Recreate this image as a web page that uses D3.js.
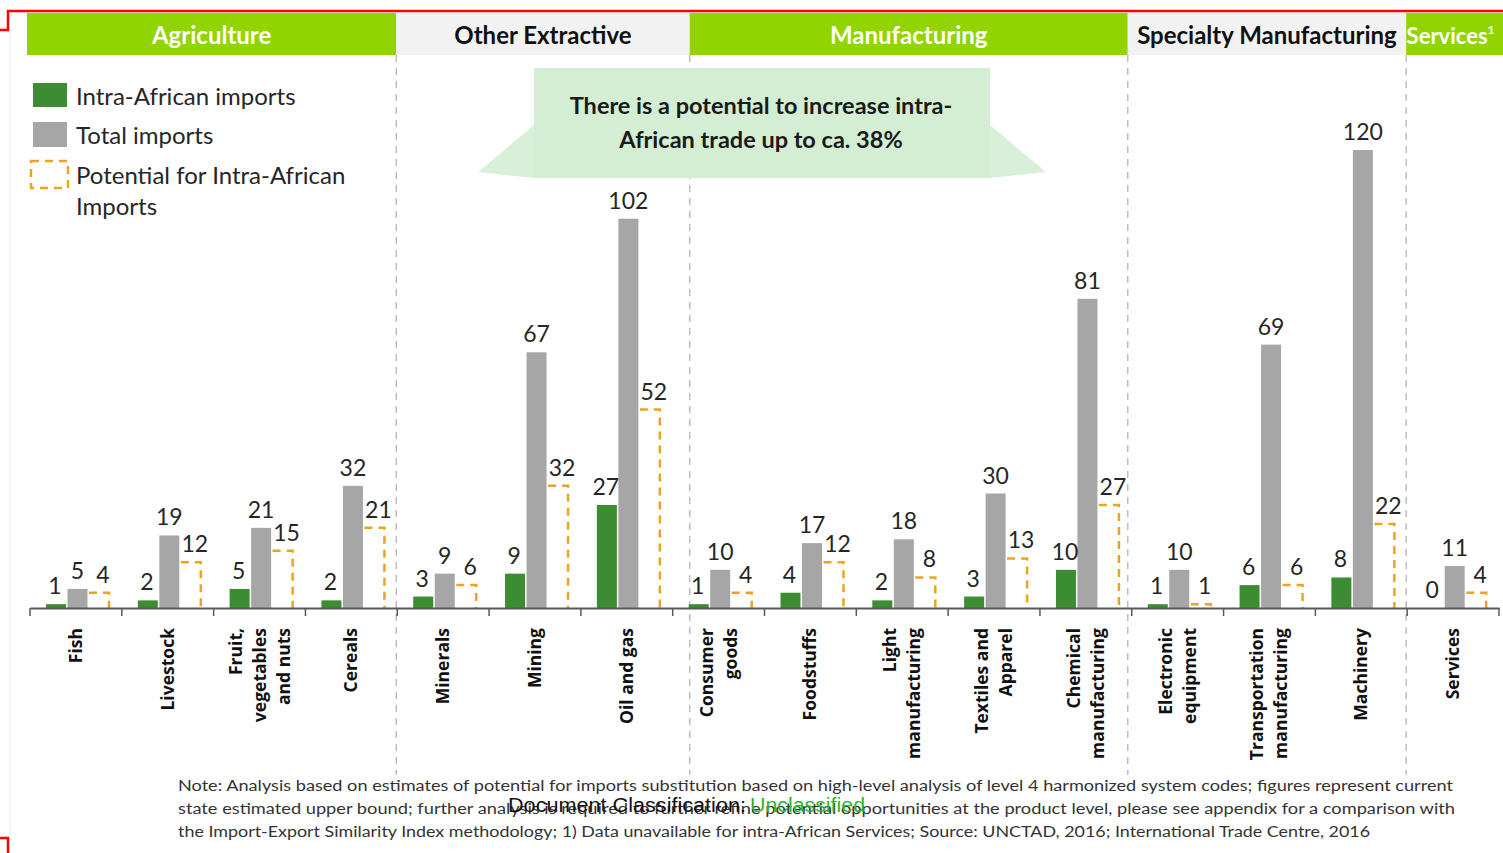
<!DOCTYPE html>
<html><head><meta charset="utf-8">
<script src="https://cdn.jsdelivr.net/npm/d3@7/dist/d3.min.js"></script>
<style>body{margin:0;background:#fff} svg{display:block}</style>
</head><body><div id="chart"></div>
<script>
// categories ("|" = line break in the axis label)
const categories = ["Fish","Livestock","Fruit,|vegetables|and nuts","Cereals","Minerals","Mining","Oil and gas",
  "Consumer|goods","Foodstuffs","Light|manufacturing","Textiles and|Apparel","Chemical|manufacturing",
  "Electronic|equipment","Transportation|manufacturing","Machinery","Services"];
const intraImports = [1,2,5,2,3,9,27,1,4,2,3,10,1,6,8,0];
const totalImports = [5,19,21,32,9,67,102,10,17,18,30,81,10,69,120,11];
const potential    = [4,12,15,21,6,32,52,4,12,8,13,27,1,6,22,4];
const groupNames = ["Agriculture","Other Extractive","Manufacturing","Specialty Manufacturing","Services"];
const groupSizes = [4,3,5,3,1];
const groupGreen = [true,false,true,false,true];
const legendLabels = ["Intra-African imports","Total imports","Potential for Intra-African|Imports"];
const callout = ["There is a potential to increase intra-","African trade up to ca. 38%"];
const notes = [
  "Note: Analysis based on estimates of potential for imports substitution based on high-level analysis of level 4 harmonized system codes; figures represent current",
  "state estimated upper bound; further analysis is required to further refine potential opportunities at the product level, please see appendix for a comparison with",
  "the Import-Export Similarity Index methodology; 1) Data unavailable for intra-African Services; Source: UNCTAD, 2016;  International Trade Centre, 2016"
];

const W = 1503, H = 853;
const GREEN = "#3c8c32", GRAY = "#a6a6a6", ORANGE = "#eaa420", HEAD = "#92d400";
const svg = d3.select("#chart").append("svg").attr("width", W).attr("height", H)
  .style("font-family", "Lato, 'Open Sans', sans-serif");

const x = d3.scaleBand().domain(categories).range([30, 1499]);
const sub = d3.scaleBand().domain(["intra","total","potential"]).range([16, 79]).paddingInner(0.07);
const y = d3.scaleLinear().domain([0, 120]).range([608, 150]);
const bw = sub.bandwidth();

// frame marks
svg.append("path").attr("d","M0,30H8V11H1503").attr("fill","none").attr("stroke","#f00").attr("stroke-width",2.5);
svg.append("path").attr("d","M0,838H8V853").attr("fill","none").attr("stroke","#f00").attr("stroke-width",2.5);
svg.append("line").attr("x1",10).attr("x2",10).attr("y1",30).attr("y2",837).attr("stroke","#fbe3e3").attr("stroke-width",1);

// group header bands + separators
const shift = [-3, -1, 17, -4, -1];
let idx = 0;
const bounds = groupSizes.map((n, i) => { const s = x(categories[idx]) + shift[i]; idx += n; return s; });
bounds.push(W);
groupNames.forEach((g, i) => {
  const x0 = bounds[i], x1 = bounds[i+1];
  svg.append("rect").attr("x", x0).attr("y", 13).attr("width", x1 - x0).attr("height", 42)
    .attr("fill", groupGreen[i] ? HEAD : "#f2f2f2");
  const t = svg.append("text").attr("x", (x0 + x1) / 2 + (i === 4 ? -4 : 0)).attr("y", 44)
    .attr("text-anchor", "middle").attr("font-weight", 700).attr("font-size", i === 4 ? 22 : 24)
    .attr("fill", groupGreen[i] ? "#fff" : "#111").text(g);
  if (i === 4) t.append("tspan").attr("font-size", 12).attr("dy", -10).text("1");
  if (i > 0) svg.append("line").attr("x1", x0).attr("x2", x0).attr("y1", 55).attr("y2", 775)
    .attr("stroke", "#bdbdbd").attr("stroke-width", 1.5).attr("stroke-dasharray", "7,6");
});

// legend
const lg = svg.append("g");
lg.append("rect").attr("x",33).attr("y",83).attr("width",34).attr("height",24).attr("fill",GREEN);
lg.append("rect").attr("x",33).attr("y",122).attr("width",34).attr("height",25).attr("fill",GRAY);
lg.append("rect").attr("x",31).attr("y",161).attr("width",37).attr("height",27).attr("fill","none")
  .attr("stroke",ORANGE).attr("stroke-width",2.5).attr("stroke-dasharray","8,6");
[105, 144, 184].forEach((yy, i) => {
  const t = lg.append("text").attr("x", 76).attr("y", yy).attr("font-size", 24).attr("fill", "#262626");
  legendLabels[i].split("|").forEach((s, k) => t.append("tspan").attr("x", 76).attr("dy", k ? 31 : 0).text(s));
});

// callout
const cg = svg.append("g").attr("fill", "#d3eed3");
cg.append("path").attr("d", "M534,125L478,172L534,178Z").attr("opacity", 0.9);
cg.append("path").attr("d", "M990,125L1046,172L990,178Z").attr("opacity", 0.9);
cg.append("rect").attr("x", 534).attr("y", 68).attr("width", 456).attr("height", 110);
callout.forEach((s, i) => svg.append("text").attr("x", 761).attr("y", 114 + i * 34)
  .attr("text-anchor", "middle").attr("font-weight", 700).attr("font-size", 23.5).attr("fill", "#1a1a1a").text(s));

// bars
const rows = categories.map((c, i) => ({c, intra: intraImports[i], total: totalImports[i], pot: potential[i]}));
const bars = svg.append("g");
bars.selectAll("rect.intra").data(rows).join("rect").attr("class","intra")
  .attr("x", d => x(d.c) + sub("intra")).attr("width", bw)
  .attr("y", d => y(d.intra)).attr("height", d => y(0) - y(d.intra)).attr("fill", GREEN);
bars.selectAll("rect.total").data(rows).join("rect").attr("class","total")
  .attr("x", d => x(d.c) + sub("total")).attr("width", bw)
  .attr("y", d => y(d.total)).attr("height", d => y(0) - y(d.total)).attr("fill", GRAY);
bars.selectAll("path.pot").data(rows).join("path").attr("class","pot")
  .attr("d", d => { const l = x(d.c) + sub("potential"); return `M${l},${y(d.pot)}H${l + bw}V${y(0)}`; })
  .attr("fill", "none").attr("stroke", ORANGE).attr("stroke-width", 2.5).attr("stroke-dasharray", "8,6");

// value labels
const lab = svg.append("g").attr("font-size", 23).attr("fill", "#262626").attr("text-anchor", "middle");
[["intra", "intra", -1], ["total", "total", 0], ["pot", "potential", 4]].forEach(([k, s, dx]) => {
  lab.selectAll("text." + k).data(rows).join("text").attr("class", k)
    .attr("x", d => x(d.c) + sub(s) + bw / 2 + dx).attr("y", d => y(d[k]) - 10).text(d => d[k]);
});

// axis
const axis = svg.append("g").attr("transform", "translate(0,608)")
  .call(d3.axisBottom(x).tickSize(0).tickFormat(""));
axis.select(".domain").attr("stroke", "#595959").attr("stroke-width", 2);
axis.selectAll(".tick").remove();
svg.append("g").selectAll("line").data(categories.concat([null])).join("line")
  .attr("x1", d => d ? x(d) : x.range()[1]).attr("x2", d => d ? x(d) : x.range()[1])
  .attr("y1", 608).attr("y2", 616).attr("stroke", "#595959").attr("stroke-width", 1.5);

// category labels, rotated
svg.append("g").selectAll("text").data(categories).join("text")
  .attr("font-family", "'Open Sans', sans-serif").attr("font-weight", 700).attr("font-size", 17.5)
  .attr("fill", "#111").attr("text-anchor", "end")
  .each(function(d) {
    const lines = d.split("|"), cx = x(d) + x.bandwidth() / 2 + 6;
    const sel = d3.select(this);
    lines.forEach((s, k) => {
      const xx = cx + (k - (lines.length - 1) / 2) * 24;
      sel.append("tspan").attr("x", -628).attr("y", xx).text(s);
    });
  })
  .attr("transform", "rotate(-90)");

// notes
notes.forEach((s, i) => svg.append("text").attr("x", 178).attr("y", 791 + i * 23)
  .attr("font-size", 15.5).attr("fill", "#333").attr("textLength", [1275, 1277, 1192][i])
  .attr("lengthAdjust", "spacingAndGlyphs").text(s));

// classification overlay (overlaps the note, as in the original)
const dc = svg.append("text").attr("y", 812).attr("font-size", 20)
  .attr("font-family", "'Liberation Sans Narrow', 'Liberation Sans', sans-serif");
dc.append("tspan").attr("x", 508).attr("fill", "#111").attr("textLength", 238)
  .attr("lengthAdjust", "spacingAndGlyphs").text("Document Classification:");
dc.append("tspan").attr("x", 750).attr("fill", "#2cb82c").attr("textLength", 115)
  .attr("lengthAdjust", "spacingAndGlyphs").text("Unclassified");
</script>
</body></html>
